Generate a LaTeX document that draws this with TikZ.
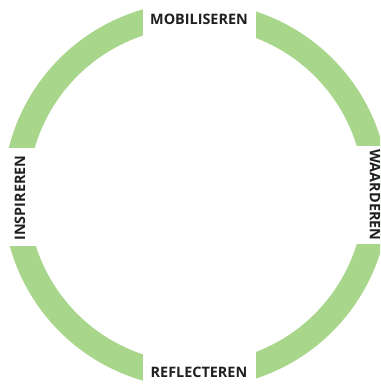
\documentclass[tikz,border=0pt]{standalone}
\usepackage{fontspec}
\setmainfont{Open Sans}
\definecolor{ringgreen}{RGB}{168,214,138}
\begin{document}
\begin{tikzpicture}[x=1pt,y=-1pt,
  label/.style={font=\bfseries\fontsize{14.4}{16}\selectfont, text=black!88, inner sep=0pt}]
\useasboundingbox (0,0) rectangle (380,385);
\fill[white] (0,0) rectangle (380,385);
\begin{scope}
  \clip (0,0) rectangle (380,385);
  \fill[ringgreen, even odd rule] (196,195) circle[radius=193] (196,195) circle[radius=168];
  \fill[white] (143,-10) rectangle (256,60);
  \fill[white] (143,330) rectangle (256,400);
  \fill[white] (-10,148) rectangle (60,246);
  \fill[white] (330,146) rectangle (400,244);
\end{scope}
\node[label] (mob) at (199,19) {MOBILISEREN};
\node[label] (ref) at (199,372) {REFLECTEREN};
\node[label, rotate=90] (ins) at (20,198) {INSPIREREN};
\node[label, rotate=-90] (waa) at (375,195) {WAARDEREN};
\end{tikzpicture}
\end{document}
